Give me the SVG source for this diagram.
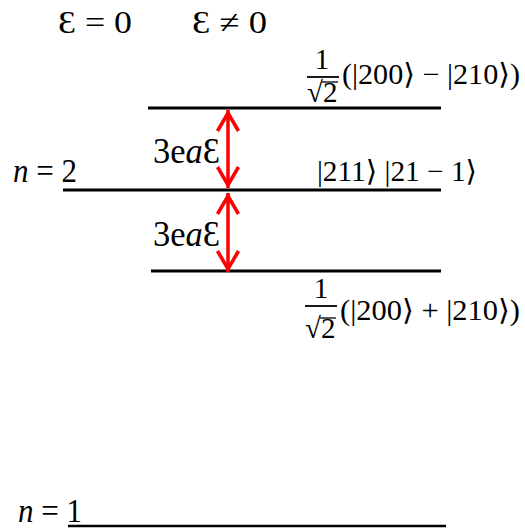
<svg xmlns="http://www.w3.org/2000/svg" width="525" height="528" viewBox="0 0 525 528">
<style>
.lvl{stroke:#000;stroke-width:3;fill:none}
.bar{stroke:#000;stroke-width:1.8;fill:none}
.m{font-family:"Liberation Serif","DejaVu Serif",serif;fill:#000}
.ket{font-size:29px}
.hd{font-size:32px}
.n{font-size:33px}
.e{font-size:36px}
.arr{stroke:#f00;stroke-width:3.5;fill:none}
</style>
<defs>
<marker id="ah" markerUnits="userSpaceOnUse" markerWidth="30" markerHeight="30" refX="0" refY="0" orient="auto-start-reverse" overflow="visible">
<path d="M-21,-10.5 L-3,0 L-21,10.5" fill="none" stroke="#f00" stroke-width="3.5"/>
</marker>
</defs>
<rect width="525" height="528" fill="#fff"/>
<g id="headers">
<text class="m hd" x="58" y="33" textLength="74" lengthAdjust="spacingAndGlyphs">Ɛ = 0</text>
<text class="m hd" x="192" y="33" textLength="75" lengthAdjust="spacingAndGlyphs">Ɛ ≠ 0</text>
</g>
<g id="level-upper">
<line class="lvl" x1="148" y1="108" x2="441" y2="108"/>
<text class="m ket" x="322" y="69" text-anchor="middle">1</text>
<line class="bar" x1="307" y1="77" x2="339" y2="77"/>
<text class="m ket" x="307" y="102">√2</text>
<line class="bar" x1="322" y1="82" x2="338" y2="82" style="stroke-width:1.3"/>
<text class="m ket" x="342" y="84" textLength="178" lengthAdjust="spacingAndGlyphs">(|200⟩ − |210⟩)</text>
</g>
<g id="level-n2">
<line class="lvl" x1="63" y1="190" x2="441" y2="190"/>
<text class="m n" x="13" y="182" textLength="64" lengthAdjust="spacingAndGlyphs"><tspan font-style="italic">n</tspan> = 2</text>
<text class="m ket" x="317" y="181" textLength="160" lengthAdjust="spacingAndGlyphs">|211⟩ |21 − 1⟩</text>
</g>
<g id="level-lower">
<line class="lvl" x1="151" y1="271" x2="441" y2="271"/>
<text class="m ket" x="321" y="298" text-anchor="middle">1</text>
<line class="bar" x1="305" y1="306" x2="337" y2="306"/>
<text class="m ket" x="305" y="338">√2</text>
<line class="bar" x1="320" y1="318" x2="336" y2="318" style="stroke-width:1.3"/>
<text class="m ket" x="340" y="320" textLength="180" lengthAdjust="spacingAndGlyphs">(|200⟩ + |210⟩)</text>
</g>
<g id="level-n1">
<line class="lvl" x1="68" y1="526" x2="446" y2="526" style="stroke-width:2.5"/>
<text class="m n" x="18" y="522" textLength="64" lengthAdjust="spacingAndGlyphs"><tspan font-style="italic">n</tspan> = 1</text>
</g>
<g id="connectors">
<line class="arr" x1="228" y1="110" x2="228" y2="188" marker-start="url(#ah)" marker-end="url(#ah)"/>
<line class="arr" x1="228" y1="193" x2="228" y2="272" marker-start="url(#ah)" marker-end="url(#ah)"/>
</g>
<g id="labels">
<text class="m e" x="153" y="163" textLength="67" lengthAdjust="spacingAndGlyphs">3e<tspan font-style="italic">a</tspan>Ɛ</text>
<text class="m e" x="153" y="246" textLength="67" lengthAdjust="spacingAndGlyphs">3e<tspan font-style="italic">a</tspan>Ɛ</text>
</g>
</svg>
